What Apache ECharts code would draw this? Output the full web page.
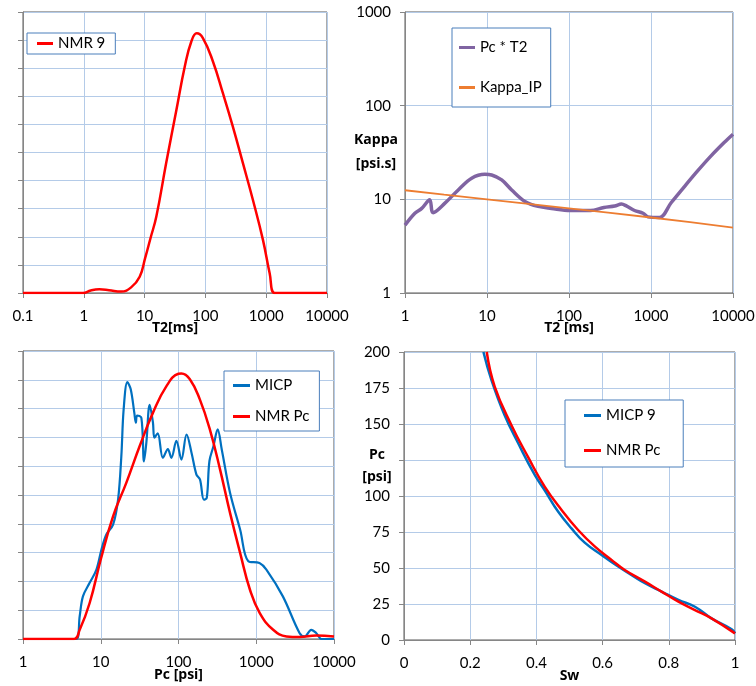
<!DOCTYPE html>
<html>
<head>
<meta charset="utf-8">
<script src="https://cdn.jsdelivr.net/npm/echarts@6/dist/echarts.min.js"></script>
<style>html,body{margin:0;padding:0;background:#fff;}#c{width:756px;height:686px;}</style>
</head>
<body>
<div id="c"></div>
<script>
// Panel 1: NMR T2 distribution
const nmrT2 = [0.1, 0.5, 0.97, 1.3, 1.8, 2.6, 4.1, 6, 8.3, 10.2, 12.5, 15.6, 22.6, 33.4, 45.8, 58.7, 72, 91, 133, 194, 282, 414, 605, 884, 1140, 1375, 2000, 10000];
const nmrAmp = [0, 0, 0, 0.09, 0.13, 0.1, 0.05, 0.2, 0.58, 1.24, 1.95, 2.72, 4.62, 6.52, 8.06, 8.95, 9.24, 9.07, 8.24, 7.11, 5.93, 4.62, 3.31, 1.89, 0.70, 0, 0, 0];

// Panel 2: Kappa
const pcT2X = [1, 1.32, 1.6, 2.0, 2.2, 3.07, 4.46, 6.5, 9.4, 11.4, 15.1, 20, 29, 42, 61, 104, 183, 267, 361, 437, 500, 630, 800, 920, 1270, 1760, 2560, 3700, 5400, 7800, 10000];
const pcT2Y = [5.3, 7.1, 8.0, 9.9, 7.2, 9.1, 12.6, 16.8, 18.5, 18.2, 16.1, 12.6, 9.5, 8.4, 8.0, 7.6, 7.6, 8.2, 8.5, 8.9, 8.5, 7.6, 7.1, 6.5, 6.4, 9.2, 13.7, 20.1, 29.1, 40.4, 49.6];
const kappaX = [1, 3, 10, 30, 100, 300, 1000, 3000, 10000];
const kappaY = [12.5, 11.2, 10.0, 9.0, 8.0, 7.2, 6.4, 5.7, 5.0];

// Panel 3: Pc distributions
const micpPc = [1, 4.86, 5.36, 5.9, 7.2, 8.8, 10.2, 11.8, 14.4, 16.7, 18.4, 19.7, 22, 24.3, 27, 28.3, 29.4, 33.3, 36, 38.6, 42.6, 46.9, 49, 54, 63, 73, 81, 94, 109, 127, 147, 170, 189, 212, 231, 250, 282, 319, 360, 460, 620, 790, 1100, 1350, 2200, 3600, 4200, 5100, 5900, 6900, 10000];
const micpAmp = [0, 0, 0.79, 1.48, 1.95, 2.41, 3.1, 3.63, 3.97, 4.84, 6.35, 7.97, 8.92, 8.67, 7.86, 7.51, 7.76, 7.68, 6.17, 6.82, 8.13, 7.52, 6.99, 7.14, 6.29, 6.59, 6.29, 6.88, 6.23, 7.10, 6.47, 5.71, 5.54, 4.84, 4.9, 6.18, 6.70, 7.28, 6.58, 5.08, 3.8, 2.70, 2.64, 2.41, 1.48, 0.21, 0.09, 0.32, 0.21, 0, 0];
const nmrPcX = [1, 4.5, 5.36, 7.2, 10, 14.4, 21.3, 31.7, 47, 70, 100, 109, 140, 188, 253, 342, 460, 620, 830, 1110, 1650, 2450, 3600, 5900, 10000];
const nmrPcAmp = [0, 0, 0.32, 1.25, 2.76, 4.26, 5.42, 6.70, 7.86, 8.78, 9.21, 9.22, 9.02, 8.32, 7.28, 5.89, 4.38, 2.99, 1.71, 0.90, 0.32, 0.09, 0.07, 0.12, 0.09];

// Panel 4: Pc vs Sw
const micpSw = [0.24, 0.264, 0.304, 0.345, 0.395, 0.425, 0.466, 0.506, 0.546, 0.597, 0.647, 0.688, 0.728, 0.778, 0.829, 0.879, 0.929, 0.99, 1.0];
const micpPcSw = [200, 180.6, 156, 136.6, 114.6, 104, 89, 77.5, 67.6, 59, 51, 45, 39.4, 33.6, 27.8, 23.1, 15, 7.4, 4.6];
const nmrSw = [0.25, 0.274, 0.325, 0.375, 0.425, 0.476, 0.526, 0.577, 0.627, 0.667, 0.728, 0.778, 0.829, 0.879, 0.929, 1.0];
const nmrPcSw = [200, 176, 149, 127, 106.5, 90.3, 76.4, 64.8, 55.6, 48.6, 40.5, 33.6, 26.6, 20.8, 15.0, 4.6];

// Tick labels
const ticksP4X = [0, 0.2, 0.4, 0.6, 0.8, 1];
const ticksP4Y = [0, 25, 50, 75, 100, 125, 150, 175, 200];

const zip = (a, b) => a.map((v, i) => [v, b[i]]);
const plainNum = v => String(Number(Number(v).toPrecision(6)));

const FONT = 'Lato';
const NAMEFONT = 'Open Sans';
const gridCol = '#b4cbe8';
const axisCol = '#868686';
const legendBorder = '#4a7ebb';

function xAxisBase(idx, extra) {
  return Object.assign({
    gridIndex: idx,
    nameLocation: 'middle',
    nameMoveOverlap: false,
    nameTextStyle: {fontFamily: NAMEFONT, fontWeight: 'bold', fontSize: 14, color: '#000'},
    axisLine: {show: true, onZero: false, lineStyle: {color: axisCol, width: 1}},
    axisTick: {show: true, inside: false, length: 5, lineStyle: {color: axisCol}},
    axisLabel: {fontFamily: FONT, fontSize: 15, color: '#000', margin: 16, showMinLabel: true, showMaxLabel: true, formatter: plainNum},
    splitLine: {show: true, lineStyle: {color: gridCol, width: 1}},
    minorTick: {show: false}
  }, extra);
}
function yAxisBase(idx, extra) {
  return Object.assign({
    gridIndex: idx,
    nameLocation: 'middle',
    nameRotate: 0,
    nameMoveOverlap: false,
    axisLine: {show: true, onZero: false, lineStyle: {color: axisCol, width: 1}},
    axisTick: {show: true, inside: false, length: 5, lineStyle: {color: axisCol}},
    axisLabel: {fontFamily: FONT, fontSize: 15, color: '#000', margin: 14, showMinLabel: true, showMaxLabel: true, formatter: plainNum},
    splitLine: {show: true, lineStyle: {color: gridCol, width: 1}}
  }, extra);
}

const legendText = {fontFamily: FONT, fontSize: 15, color: '#000'};
const SMOOTH = 0.45;

const option = {
  animation: false,
  backgroundColor: '#fff',
  grid: [
    {left: 23, top: 12, width: 304, height: 281, show: true, borderColor: '#595959', borderWidth: 1, outerBoundsMode: 'none'},
    {left: 405, top: 12, width: 328, height: 281, show: true, borderColor: '#595959', borderWidth: 1, outerBoundsMode: 'none'},
    {left: 23, top: 351, width: 311, height: 288, show: true, borderColor: '#595959', borderWidth: 1, outerBoundsMode: 'none'},
    {left: 404, top: 352, width: 331, height: 288, show: true, borderColor: '#595959', borderWidth: 1, outerBoundsMode: 'none'}
  ],
  xAxis: [
    xAxisBase(0, {type: 'log', logBase: 10, min: 0.1, max: 10000, name: 'T2[ms]', nameGap: 28}),
    xAxisBase(1, {type: 'log', logBase: 10, min: 1, max: 10000, name: 'T2 [ms]', nameGap: 28}),
    xAxisBase(2, {type: 'log', logBase: 10, min: 1, max: 10000, name: 'Pc [psi]', nameGap: 29}),
    xAxisBase(3, {type: 'value', min: ticksP4X[0], max: ticksP4X[ticksP4X.length - 1], interval: 0.2, name: 'Sw', nameGap: 29})
  ],
  yAxis: [
    yAxisBase(0, {type: 'value', min: 0, max: 10, interval: 1, axisLabel: {show: false}}),
    yAxisBase(1, {type: 'log', logBase: 10, min: 1, max: 1000, name: 'Kappa\n[psi.s]', nameGap: 29,
      nameTextStyle: {fontFamily: NAMEFONT, fontWeight: 'bold', fontSize: 14, color: '#000', align: 'center', verticalAlign: 'middle', lineHeight: 24}}),
    yAxisBase(2, {type: 'value', min: 0, max: 10, interval: 1, axisLabel: {show: false}}),
    yAxisBase(3, {type: 'value', min: ticksP4Y[0], max: ticksP4Y[ticksP4Y.length - 1], interval: 25})
  ],
  graphic: [
    {type: 'text', x: 377, y: 444, z: 100, silent: true,
      style: {text: 'Pc\n[psi]', fontFamily: NAMEFONT, fontWeight: 'bold', fontSize: 14, fill: '#000',
        align: 'center', verticalAlign: 'top', lineHeight: 22, backgroundColor: '#fff', padding: [0, 2, 0, 2]}}
  ],
  legend: [
    {data: ['NMR 9'], left: 27, top: 33, orient: 'vertical', borderColor: legendBorder, borderWidth: 1, backgroundColor: '#fff',
      padding: [3, 10, 3, 10], itemWidth: 16, itemHeight: 3, icon: 'rect', itemGap: 5, textStyle: legendText},
    {data: ['Pc * T2', 'Kappa_IP'], left: 452, top: 28, orient: 'vertical', borderColor: legendBorder, borderWidth: 1, backgroundColor: '#fff',
      padding: [12, 9, 12, 7], itemWidth: 16, itemHeight: 3, icon: 'rect', itemGap: 25, textStyle: legendText},
    {data: ['MICP', 'NMR Pc'], left: 224, top: 371, orient: 'vertical', borderColor: legendBorder, borderWidth: 1, backgroundColor: '#fff',
      padding: [7, 10, 7, 9], itemWidth: 17, itemHeight: 3, icon: 'rect', itemGap: 16, textStyle: legendText},
    {data: ['MICP 9', 'NMR Pc '], left: 565, top: 400, orient: 'vertical', borderColor: legendBorder, borderWidth: 1, backgroundColor: '#fff',
      padding: [8, 19, 9, 19], itemWidth: 17, itemHeight: 3, icon: 'rect', itemGap: 20, textStyle: legendText}
  ],
  series: [
    {name: 'NMR 9', type: 'line', xAxisIndex: 0, yAxisIndex: 0, data: zip(nmrT2, nmrAmp), showSymbol: false, smooth: SMOOTH,
      lineStyle: {color: '#ff0000', width: 2.5}, itemStyle: {color: '#ff0000'}},
    {name: 'Pc * T2', type: 'line', xAxisIndex: 1, yAxisIndex: 1, data: zip(pcT2X, pcT2Y), showSymbol: false, smooth: 0.35,
      lineStyle: {color: '#8064a2', width: 3.5}, itemStyle: {color: '#8064a2'}},
    {name: 'Kappa_IP', type: 'line', xAxisIndex: 1, yAxisIndex: 1, data: zip(kappaX, kappaY), showSymbol: false,
      lineStyle: {color: '#ed7d31', width: 1.8}, itemStyle: {color: '#ed7d31'}},
    {name: 'MICP', type: 'line', xAxisIndex: 2, yAxisIndex: 2, data: zip(micpPc, micpAmp), showSymbol: false, smooth: 0.35,
      lineStyle: {color: '#0070c0', width: 2.2}, itemStyle: {color: '#0070c0'}},
    {name: 'NMR Pc', type: 'line', xAxisIndex: 2, yAxisIndex: 2, data: zip(nmrPcX, nmrPcAmp), showSymbol: false, smooth: SMOOTH,
      lineStyle: {color: '#ff0000', width: 2.5}, itemStyle: {color: '#ff0000'}},
    {name: 'MICP 9', type: 'line', xAxisIndex: 3, yAxisIndex: 3, data: zip(micpSw, micpPcSw), showSymbol: false, smooth: SMOOTH,
      lineStyle: {color: '#0070c0', width: 2.5}, itemStyle: {color: '#0070c0'}},
    {name: 'NMR Pc ', type: 'line', xAxisIndex: 3, yAxisIndex: 3, data: zip(nmrSw, nmrPcSw), showSymbol: false, smooth: SMOOTH,
      lineStyle: {color: '#ff0000', width: 2.5}, itemStyle: {color: '#ff0000'}}
  ]
};

const chart = echarts.init(document.getElementById('c'), null, {renderer: 'canvas'});
chart.setOption(option);
</script>
</body>
</html>
